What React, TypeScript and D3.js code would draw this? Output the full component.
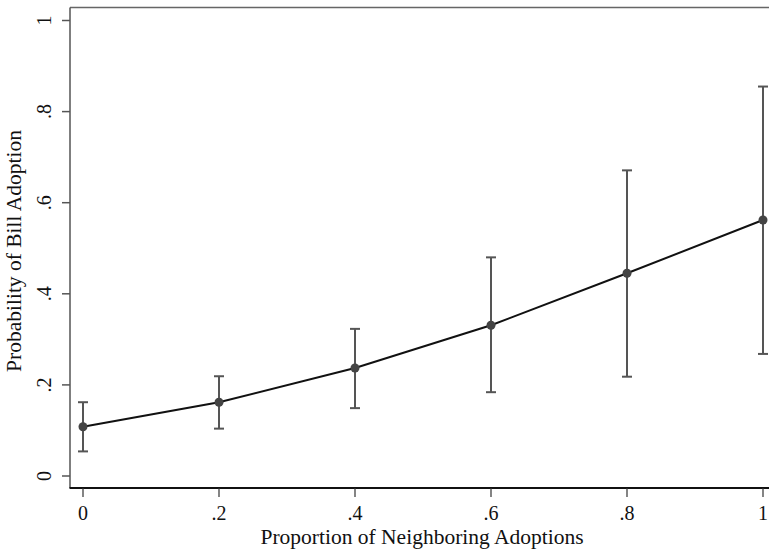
import React from "react";
import * as d3 from "d3";

const xValues = [0, 0.2, 0.4, 0.6, 0.8, 1];
const estimates = [0.108, 0.162, 0.237, 0.331, 0.445, 0.562];
const lowerCI = [0.054, 0.104, 0.149, 0.184, 0.218, 0.268];
const upperCI = [0.162, 0.219, 0.323, 0.48, 0.671, 0.855];
const xTicks = [0, 0.2, 0.4, 0.6, 0.8, 1];
const xTickLabels = ["0", ".2", ".4", ".6", ".8", "1"];
const yTicks = [0, 0.2, 0.4, 0.6, 0.8, 1];
const yTickLabels = ["0", ".2", ".4", ".6", ".8", "1"];

const W = 769;
const H = 552;
const FONT = "'Liberation Serif', 'Times New Roman', serif";

export default function App() {
  const x = d3.scaleLinear().domain([0, 1]).range([83, 763]);
  const y = d3.scaleLinear().domain([0, 1]).range([476, 20.5]);
  const line = d3
    .line<number>()
    .x((_, i) => x(xValues[i]))
    .y((d) => y(d));

  const boxLeft = 70;
  const boxTop = 7.5;
  const axisY = 488;

  return (
    <svg
      width={W}
      height={H}
      style={{ position: "absolute", left: 0, top: 0, display: "block", background: "#fff" }}
    >
      {/* frame */}
      <line x1={boxLeft} x2={W} y1={boxTop} y2={boxTop} stroke="#666" strokeWidth={1.5} />
      <line x1={boxLeft} x2={boxLeft} y1={boxTop} y2={axisY} stroke="#555" strokeWidth={1.5} />
      <line x1={boxLeft - 0.5} x2={W} y1={axisY} y2={axisY} stroke="#111" strokeWidth={2} />

      {/* y ticks */}
      {yTicks.map((t, i) => (
        <g key={"y" + i}>
          <line x1={62} x2={boxLeft} y1={y(t)} y2={y(t)} stroke="#555" strokeWidth={1.5} />
          <text
            transform={`translate(${51},${y(t)}) rotate(-90)`}
            textAnchor="middle"
            fontFamily={FONT}
            fontSize={20}
            fill="#111"
          >
            {yTickLabels[i]}
          </text>
        </g>
      ))}

      {/* x ticks */}
      {xTicks.map((t, i) => (
        <g key={"x" + i}>
          <line x1={x(t)} x2={x(t)} y1={axisY} y2={497} stroke="#333" strokeWidth={1.2} />
          <text x={x(t)} y={520} textAnchor="middle" fontFamily={FONT} fontSize={20} fill="#111">
            {xTickLabels[i]}
          </text>
        </g>
      ))}

      {/* axis titles */}
      <text x={422} y={544} textAnchor="middle" fontFamily={FONT} fontSize={21.5} fill="#111">
        Proportion of Neighboring Adoptions
      </text>
      <text
        transform={`translate(${21},${251}) rotate(-90)`}
        textAnchor="middle"
        fontFamily={FONT}
        fontSize={21.5}
        fill="#111"
      >
        Probability of Bill Adoption
      </text>

      {/* error bars */}
      {xValues.map((v, i) => (
        <g key={"e" + i} stroke="#555" strokeWidth={2}>
          <line x1={x(v)} x2={x(v)} y1={y(lowerCI[i])} y2={y(upperCI[i])} />
          <line x1={x(v) - 5} x2={x(v) + 5} y1={y(lowerCI[i])} y2={y(lowerCI[i])} />
          <line x1={x(v) - 5} x2={x(v) + 5} y1={y(upperCI[i])} y2={y(upperCI[i])} />
        </g>
      ))}

      {/* line */}
      <path d={line(estimates) || ""} fill="none" stroke="#111" strokeWidth={2} />

      {/* points */}
      {estimates.map((e, i) => (
        <circle key={"p" + i} cx={x(xValues[i])} cy={y(e)} r={4.5} fill="#444" />
      ))}
    </svg>
  );
}
